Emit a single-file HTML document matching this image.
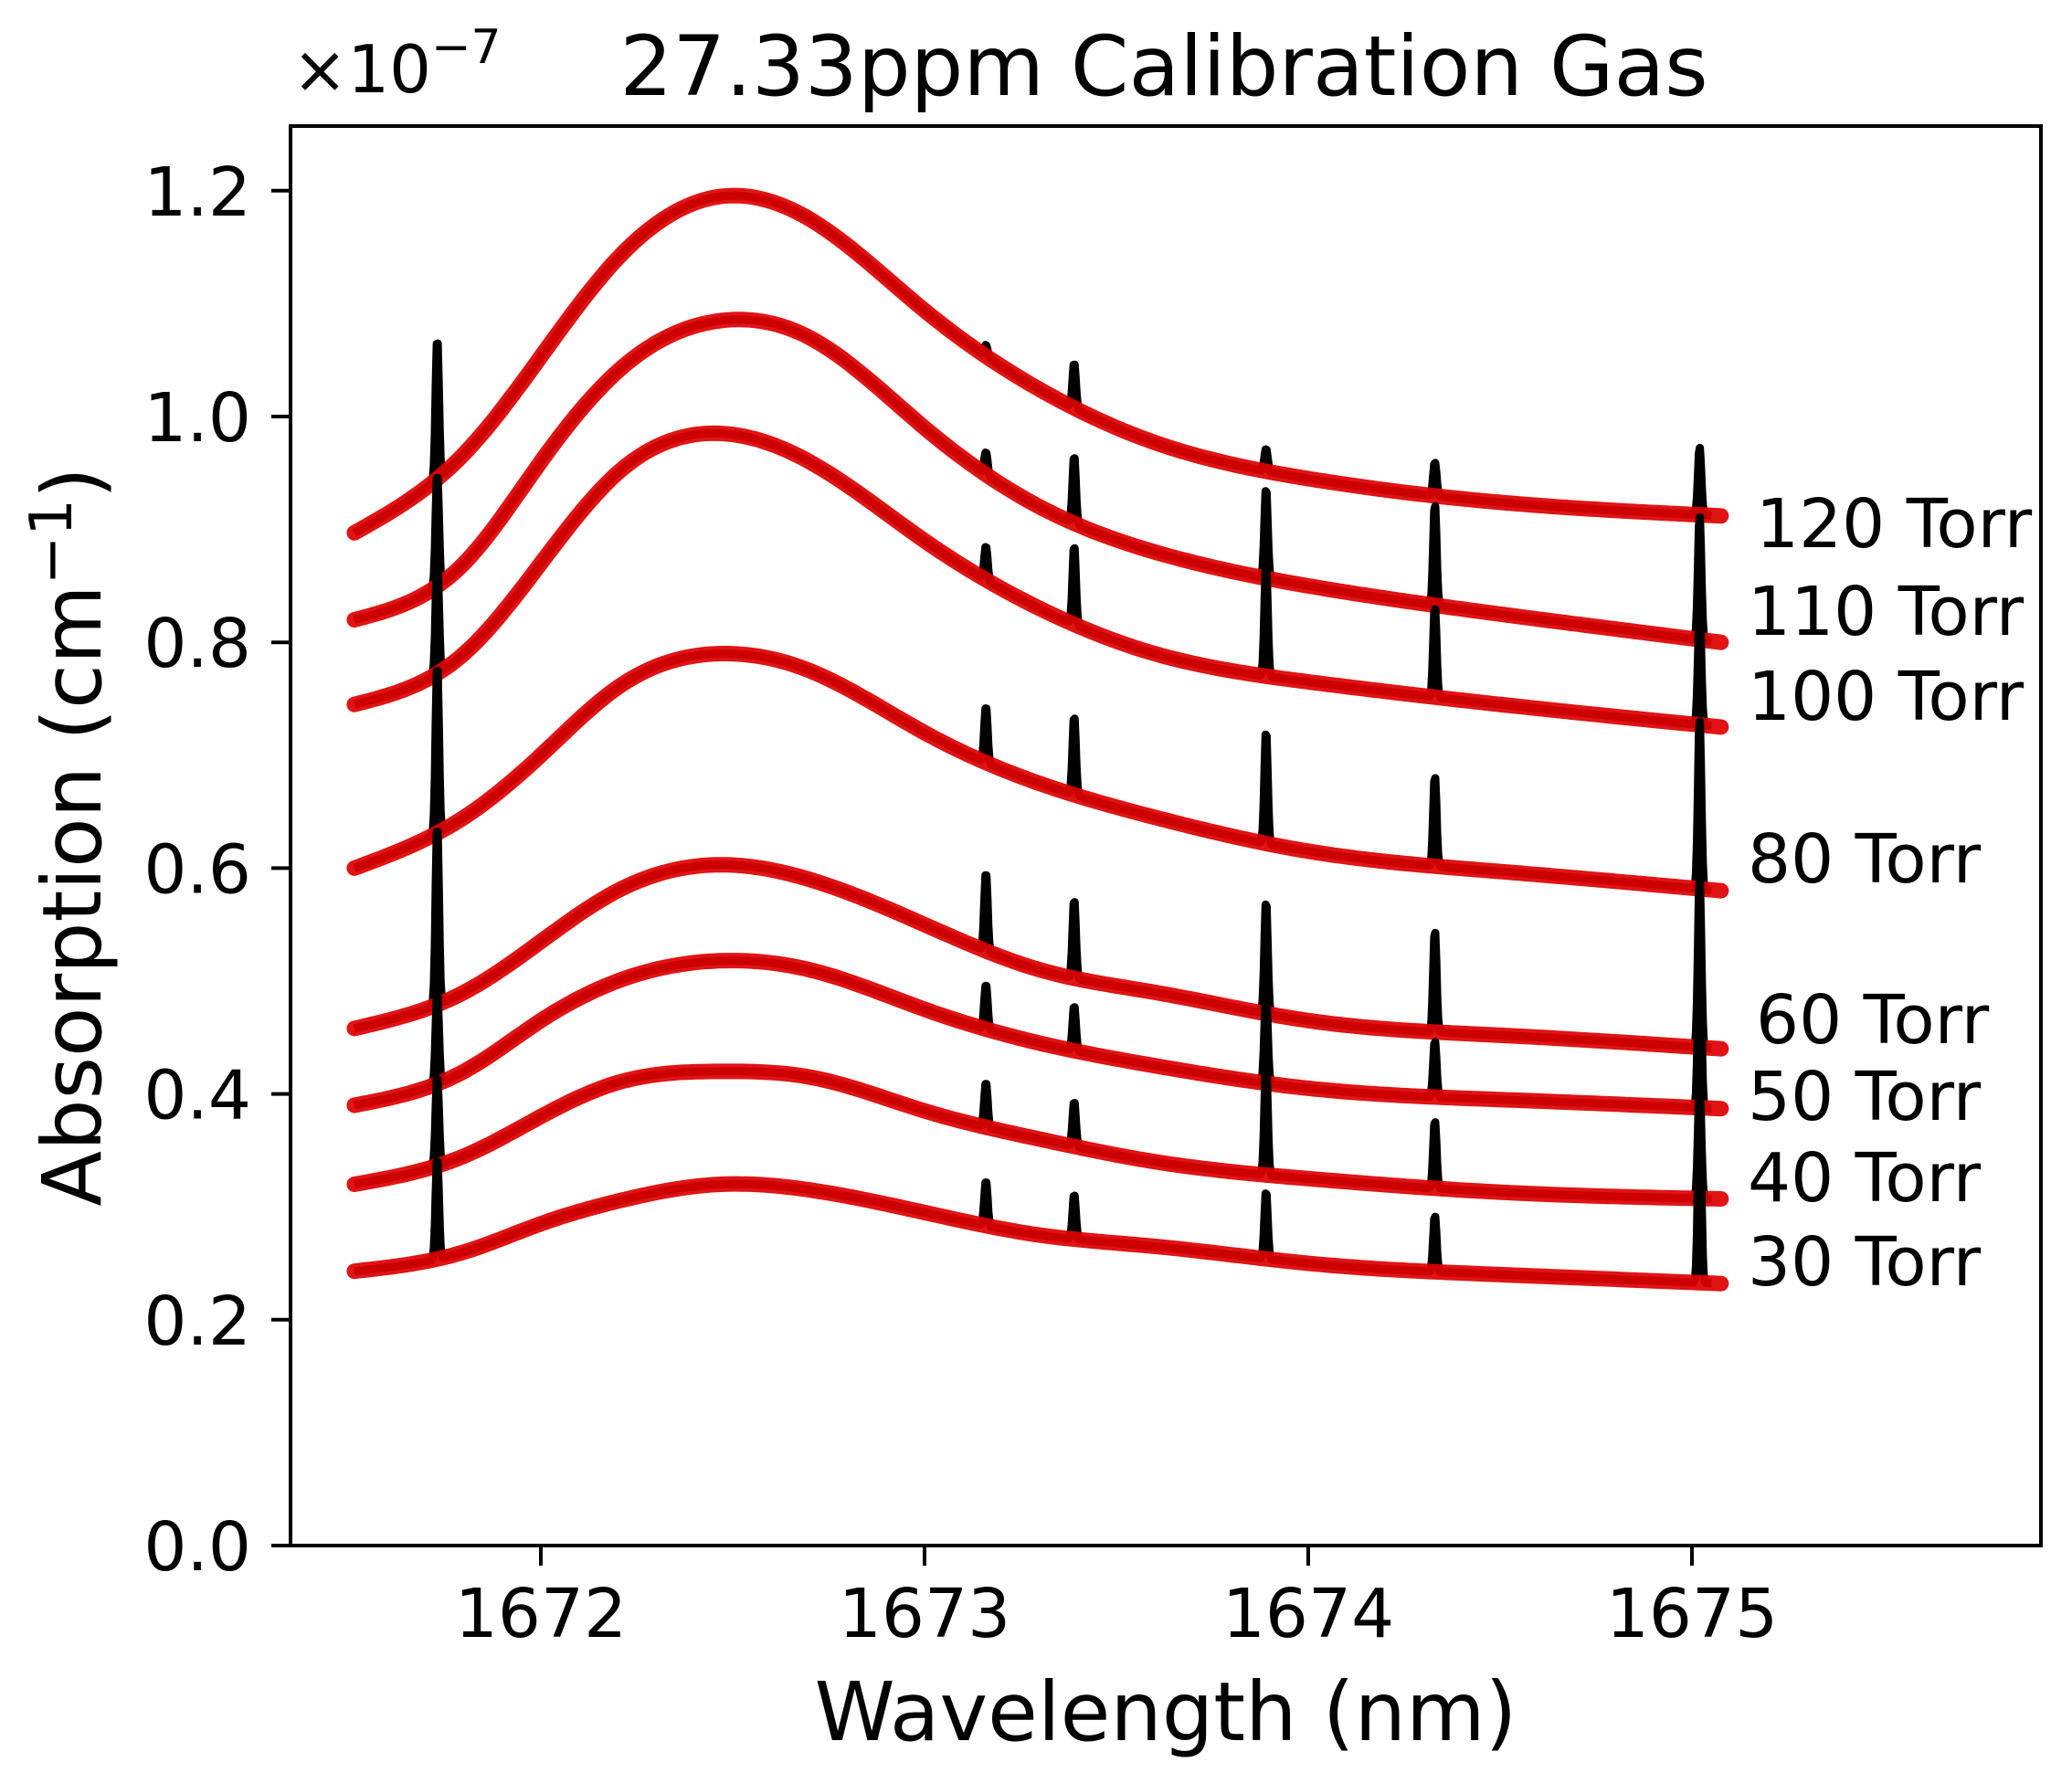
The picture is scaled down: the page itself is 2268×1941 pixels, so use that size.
<!DOCTYPE html>
<html><head><meta charset="utf-8"><style>
html,body{margin:0;padding:0;background:#fff}
svg{display:block}
text{font-family:"DejaVu Sans","Liberation Sans",sans-serif;fill:#000}
</style></head><body>
<svg id="chart" width="2268" height="1941" viewBox="0 0 2268 1941" xmlns="http://www.w3.org/2000/svg">
<rect width="2268" height="1941" fill="#fff"/>
<g id="series"></g>
<g id="axes"></g>
</svg>
<script>
const sampleX = [1671.514, 1671.8, 1672.0, 1672.2, 1672.47, 1672.7, 1673.0, 1673.3, 1673.6, 1674.0, 1674.5, 1675.076];
const labels = ["120 Torr","110 Torr","100 Torr","80 Torr","60 Torr","50 Torr","40 Torr","30 Torr"];
const s120 = [0.897,0.967,1.053,1.14,1.195,1.175,1.094,1.024,0.977,0.945,0.924,0.912];
const s110 = [0.82,0.87,0.96,1.04,1.085,1.07,0.99,0.92,0.88,0.85,0.825,0.80];
const s100 = [0.745,0.79,0.87,0.95,0.985,0.96,0.89,0.83,0.79,0.765,0.745,0.725];
const s80 = [0.60,0.645,0.70,0.76,0.79,0.775,0.72,0.675,0.645,0.615,0.597,0.58];
const s60 = [0.458,0.49,0.535,0.58,0.603,0.59,0.55,0.51,0.49,0.465,0.452,0.44];
const s50 = [0.39,0.42,0.465,0.50,0.518,0.51,0.475,0.445,0.425,0.405,0.395,0.387];
const s40 = [0.32,0.345,0.38,0.41,0.42,0.415,0.385,0.36,0.34,0.325,0.313,0.307];
const s30 = [0.243,0.26,0.285,0.305,0.32,0.315,0.295,0.275,0.265,0.25,0.24,0.232];
const spikeX = [1671.73, 1673.16, 1673.39, 1673.89, 1674.33, 1675.02];
const k120 = [0.125,0.01,0.04,0.02,0.03,0.06];
const k110 = [0.10,0.02,0.06,0.08,0.09,0.11];
const k100 = [0.10,0.03,0.07,0.10,0.08,0.10];
const k80 = [0.15,0.05,0.07,0.10,0.08,0.15];
const k60 = [0.16,0.07,0.07,0.10,0.09,0.15];
const k50 = [0.08,0.04,0.04,0.08,0.05,0.15];
const k40 = [0.08,0.04,0.04,0.10,0.06,0.10];
const k30 = [0.09,0.04,0.04,0.06,0.05,0.16];
const labelBaselines = [599,695,788,966,1142,1226,1315,1407];
const labelLefts = [1922,1913,1913,1913,1922,1913,1913,1913];
const xTicks = [1672,1673,1674,1675];
const yTicks = [0.0,0.2,0.4,0.6,0.8,1.0,1.2];

const series=[s120,s110,s100,s80,s60,s50,s40,s30];
const spikes=[k120,k110,k100,k80,k60,k50,k40,k30];
const NS="http://www.w3.org/2000/svg";
const X=v=>592+(v-1672)*420;
const Y=v=>1692-v*1236;
function spline(xs,ys){
  const n=xs.length, h=[], a=[], l=[1], mu=[0], z=[0], c=new Array(n).fill(0), b=[], d=[];
  for(let i=0;i<n-1;i++) h[i]=xs[i+1]-xs[i];
  for(let i=1;i<n-1;i++) a[i]=3/h[i]*(ys[i+1]-ys[i])-3/h[i-1]*(ys[i]-ys[i-1]);
  for(let i=1;i<n-1;i++){l[i]=2*(xs[i+1]-xs[i-1])-h[i-1]*mu[i-1];mu[i]=h[i]/l[i];z[i]=(a[i]-h[i-1]*z[i-1])/l[i];}
  for(let j=n-2;j>=0;j--){c[j]=(j>0?z[j]:0)-mu[j]*c[j+1];if(j===0)c[0]=0;b[j]=(ys[j+1]-ys[j])/h[j]-h[j]*(c[j+1]+2*c[j])/3;d[j]=(c[j+1]-c[j])/(3*h[j]);}
  return x=>{let i=0;while(i<n-2&&x>xs[i+1])i++;const t=x-xs[i];return ys[i]+b[i]*t+c[i]*t*t+d[i]*t*t*t;};
}
const sg=document.getElementById('series');
const ax=document.getElementById('axes');
function mk(tag,attrs,parent){const e=document.createElementNS(NS,tag);for(const k in attrs)e.setAttribute(k,attrs[k]);parent.appendChild(e);return e;}
series.forEach((s,si)=>{
  const f=spline(sampleX,s);
  let db="",rd="";
  const x0=sampleX[0],x1=sampleX[sampleX.length-1];
  const n=1400;
  for(let j=0;j<=n;j++){
    const x=x0+(x1-0.025-x0)*j/n;
    let v=f(x);
    spikeX.forEach((sx,k)=>{v+=spikes[si][k]*Math.exp(-Math.pow((x-sx)/0.006,2));});
    db+=(j?"L":"M")+X(x).toFixed(1)+","+Y(v).toFixed(1);
  }
  for(let j=0;j<=300;j++){
    const x=x0+(x1-x0)*j/300;
    rd+=(j?"L":"M")+X(x).toFixed(1)+","+Y(f(x)).toFixed(1);
  }
  const b=mk('path',{d:db,fill:'none',stroke:'#000','stroke-width':9,'stroke-linejoin':'round'},sg);
  
  
  const r=mk('path',{d:rd,fill:'none',stroke:'#dd0000','stroke-opacity':0.92,'stroke-width':17,'stroke-linecap':'round'},sg);
  
  
  const t=mk('text',{x:labelLefts[si],y:labelBaselines[si],'font-size':74},sg);
  t.textContent=labels[si];
  
  
});
const frame=mk('rect',{x:318,y:138,width:1916,height:1554,fill:'none',stroke:'#000','stroke-width':4},ax);


xTicks.forEach(v=>{
  mk('line',{x1:X(v),x2:X(v),y1:1692,y2:1714,stroke:'#000','stroke-width':4},ax);
  const t=mk('text',{x:X(v),y:1792,'font-size':74,'text-anchor':'middle'},ax);
  t.textContent=v;
  
  
});
yTicks.forEach(v=>{
  mk('line',{x1:297,x2:318,y1:Y(v),y2:Y(v),stroke:'#000','stroke-width':4},ax);
  const t=mk('text',{x:275,y:Y(v)+27,'font-size':74,'text-anchor':'end'},ax);
  t.textContent=v.toFixed(1);
  
  
});
</script>
<svg style="position:absolute;left:0;top:0" width="2268" height="1941" xmlns="http://www.w3.org/2000/svg">
<text x="1274" y="104" font-size="91" text-anchor="middle">27.33ppm Calibration Gas</text>
<text x="320" y="101" font-size="72">×10<tspan font-size="52" dy="-32">−7</tspan></text>
<text x="1276" y="1905" font-size="89" text-anchor="middle">Wavelength (nm)</text>
<text transform="translate(110,916) rotate(-90)" font-size="89" text-anchor="middle">Absorption (cm<tspan font-size="64" dy="-32">−1</tspan><tspan dy="32">)</tspan></text>
</svg>
</body></html>
